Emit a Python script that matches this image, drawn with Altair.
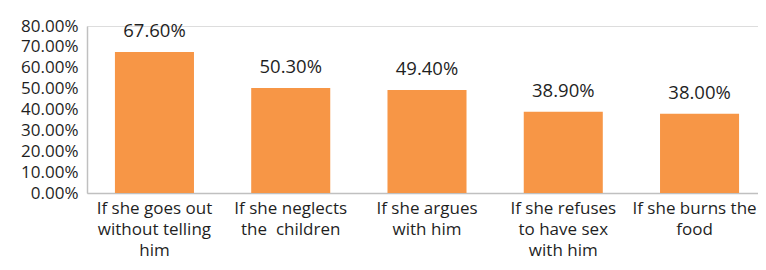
import altair as alt
import pandas as pd

categories = [
    "If she goes out|without telling|him",
    "If she neglects|the\u00a0 children",
    "If she argues|with him",
    "If she refuses|to have sex|with him",
    "If she burns the|food",
]
values = [0.676, 0.503, 0.494, 0.389, 0.380]
y_ticks = [0, 0.1, 0.2, 0.3, 0.4, 0.5, 0.6, 0.7, 0.8]

df = pd.DataFrame({"cat": categories, "val": values})

FONT = "Open Sans"
TXT = "#1f1f1f"

base = alt.Chart(df).encode(
    x=alt.X(
        "cat:N",
        sort=None,
        title=None,
        scale=alt.Scale(range=[0, 680], paddingInner=0.42, paddingOuter=0.205),
        axis=alt.Axis(
            labelAngle=0,
            labelExpr="split(datum.label, '|')",
            labelFont=FONT,
            labelFontSize=17,
            labelColor=TXT,
            labelLineHeight=21,
            labelPadding=7,
            labelBaseline="top",
            labelOffset={"condition": {"test": "datum.value == 'If she burns the|food'", "value": -5}, "value": 0},
            ticks=False,
            domainColor="#c0c0c0",
            domainWidth=1.5,
            labelLimit=300,
        ),
    ),
    y=alt.Y(
        "val:Q",
        title=None,
        scale=alt.Scale(domain=[0, 0.8], nice=False),
        axis=alt.Axis(
            values=y_ticks,
            format=".2%",
            labelFont=FONT,
            labelFontSize=17,
            labelColor=TXT,
            labelPadding=9,
            ticks=False,
            grid=False,
            domainColor="#c0c0c0",
            domainWidth=1.5,
        ),
    ),
)

bars = base.mark_bar(color="#F79646")
labels = base.mark_text(
    font=FONT, fontSize=18.5, color=TXT, baseline="middle", dy=-21
).encode(text=alt.Text("val:Q", format=".2%"))

chart = (
    alt.layer(bars, labels)
    .properties(
        width=671,
        height=167,
        padding={"left": 79, "top": 18, "right": 0, "bottom": 69},
        autosize=alt.AutoSizeParams(type="none"),
    )
    .configure_view(stroke=None)
    .configure(background="white")
)

chart.save("out.html", embed_options={"renderer": "svg", "actions": False})
